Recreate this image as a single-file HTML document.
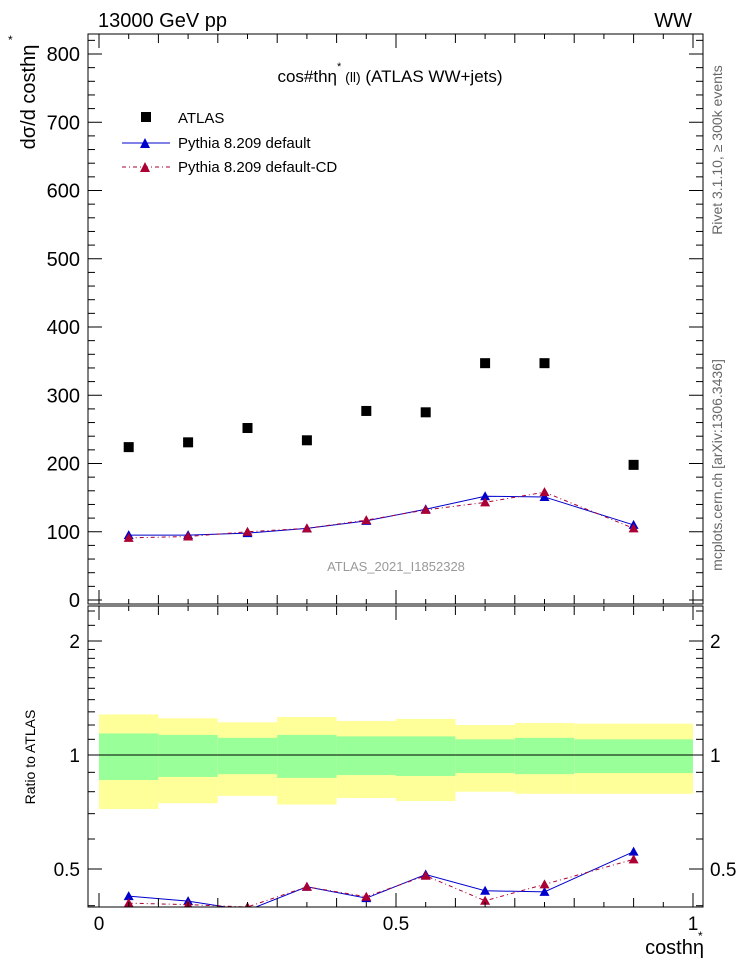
<!DOCTYPE html>
<html><head><meta charset="utf-8"><style>
body{margin:0;background:#fff}
svg{display:block;font-family:"Liberation Sans",sans-serif}
</style></head><body>
<svg id="c" width="746" height="972" viewBox="0 0 746 972">
<text x="98" y="27" font-size="20">13000 GeV pp</text>
<text x="692" y="27" font-size="20" text-anchor="end">WW</text>
<text x="390" y="82" font-size="17" text-anchor="middle">cos#thη<tspan dy="-12" font-size="11">*</tspan><tspan dy="12" font-size="14"> (ll)</tspan> (ATLAS WW+jets)</text>
<text x="396" y="571" font-size="13" fill="#999" text-anchor="middle">ATLAS_2021_I1852328</text>
<text transform="translate(722,150) rotate(-90)" font-size="14" fill="#666" text-anchor="middle">Rivet 3.1.10, ≥ 300k events</text>
<text transform="translate(722,465) rotate(-90)" font-size="14" fill="#666" text-anchor="middle">mcplots.cern.ch [arXiv:1306.3436]</text>
<text transform="translate(35,97) rotate(-90)" font-size="20" text-anchor="middle">dσ/d costhη</text>
<text x="8" y="44" font-size="12">*</text>
<text transform="translate(35,757) rotate(-90)" font-size="14" text-anchor="middle">Ratio to ATLAS</text>
<text x="704" y="954" font-size="20" text-anchor="end">costhη</text>
<text x="698" y="940" font-size="12">*</text>
<g id="legend">
<rect x="141" y="112" width="10" height="10" fill="#000"/>
<text x="178" y="123" font-size="15">ATLAS</text>
<line x1="122" y1="143" x2="170" y2="143" stroke="#00c"/>
<path d="M140,148 L150,148 L145,138 Z" fill="#00c"/>
<text x="178" y="148" font-size="15">Pythia 8.209 default</text>
<line x1="122" y1="167" x2="170" y2="167" stroke="#a03" stroke-dasharray="4,3,1,3"/>
<path d="M140,172 L150,172 L145,162 Z" fill="#a03"/>
<text x="178" y="172" font-size="15">Pythia 8.209 default-CD</text>
</g>
<defs><clipPath id="topclip"><rect x="88" y="34" width="615" height="570"/></clipPath>
<clipPath id="botclip"><rect x="88" y="606" width="615" height="301"/></clipPath></defs>
<g id="topPanel" clip-path="url(#topclip)"></g>
<g id="botPanel" clip-path="url(#botclip)"></g>
<g id="axes"></g>
</svg>
<script>
const binLo=[0,0.1,0.2,0.3,0.4,0.5,0.6,0.7,0.8];
const binHi=[0.1,0.2,0.3,0.4,0.5,0.6,0.7,0.8,1.0];
const binCenters=[0.05,0.15,0.25,0.35,0.45,0.55,0.65,0.75,0.9];
const atlas=[224,231,252,234,277,275,347,347,198];
const pyDefault=[95,95,98,105,116,133,152,151,110];
const pyCD=[91,93,100,105,117,132,143,158,105];
const bandYellowHi=[1.28,1.25,1.22,1.26,1.23,1.245,1.20,1.215,1.21];
const bandGreenHi=[1.14,1.13,1.11,1.13,1.12,1.12,1.10,1.11,1.10];
const bandGreenLo=[0.859,0.875,0.89,0.87,0.885,0.88,0.896,0.89,0.896];
const bandYellowLo=[0.72,0.746,0.78,0.74,0.77,0.756,0.80,0.79,0.79];
const yTicks=[0,100,200,300,400,500,600,700,800];
const rTicks=[0.5,1,2];
const xTicks=[0,0.5,1];

const NS="http://www.w3.org/2000/svg";
const X=v=>99+v*594;
const Y=v=>600-v*0.6825;
const R=v=>755-Math.log2(v)*114;
function mk(tag,attrs,parent){const e=document.createElementNS(NS,tag);for(const k in attrs)e.setAttribute(k,attrs[k]);parent.appendChild(e);return e;}
const topG=document.getElementById('topPanel'),botG=document.getElementById('botPanel'),ax=document.getElementById('axes');

for(let i=0;i<binLo.length;i++){
  let r=mk('rect',{x:X(binLo[i]),y:R(bandYellowHi[i]),width:X(binHi[i])-X(binLo[i]),height:R(bandYellowLo[i])-R(bandYellowHi[i]),fill:'#ffff99'},botG);
  
  
  let g=mk('rect',{x:X(binLo[i]),y:R(bandGreenHi[i]),width:X(binHi[i])-X(binLo[i]),height:R(bandGreenLo[i])-R(bandGreenHi[i]),fill:'#99ff99'},botG);
  
  
}
let one=mk('line',{x1:88,x2:703,y1:R(1),y2:R(1),stroke:'#000'},botG);



function series(vals,color,dash,parent,yf,name){
  const pts=vals.map((v,i)=>X(binCenters[i])+','+yf(v,i)).join(' ');
  const attrs={points:pts,fill:'none',stroke:color,'stroke-width':1};
  if(dash)attrs['stroke-dasharray']=dash;
  const pl=mk('polyline',attrs,parent);
  
  
  vals.forEach((v,i)=>{const x=X(binCenters[i]),y=yf(v,i);
    const m=mk('path',{d:`M${x-5},${y+4} L${x+5},${y+4} L${x},${y-5} Z`,fill:color},parent);
    
    });
}
atlas.forEach((v,i)=>{const m=mk('rect',{x:X(binCenters[i])-5,y:Y(v)-5,width:10,height:10,fill:'#000'},topG);
  
  });
series(pyDefault,'#00c','',topG,v=>Y(v),'default');
series(pyCD,'#a03','4,3,1,3',topG,v=>Y(v),'cd');
series(pyDefault,'#00c','',botG,(v,i)=>R(v/atlas[i]),'default-ratio');
series(pyCD,'#a03','4,3,1,3',botG,(v,i)=>R(v/atlas[i]),'cd-ratio');

[[34,604],[606,907]].forEach(([a,b])=>{const f=mk('rect',{x:88,y:a,width:615,height:b-a,fill:'none',stroke:'#000'},ax);
  
  });
for(let k=0;k<=20;k++){const v=k*0.05;const big=k%10===0,mid=k%2===0;const L=big?14:(mid?9:5);
  [[34,1],[604,-1],[606,1],[907,-1]].forEach(([y0,d])=>mk('line',{x1:X(v),x2:X(v),y1:y0,y2:y0+d*L,stroke:'#000'},ax));}
xTicks.forEach(v=>{const t=mk('text',{x:X(v),y:930,'font-size':19,'text-anchor':'middle'},ax);t.textContent=String(v);
  
  });
for(let v=0;v<=820;v+=20){const L=v%100===0?14:7;const y=Y(v);if(y<34)continue;
  mk('line',{x1:88,x2:88+L,y1:y,y2:y,stroke:'#000'},ax);mk('line',{x1:703,x2:703-L,y1:y,y2:y,stroke:'#000'},ax);}
yTicks.forEach(v=>{const t=mk('text',{x:80,y:Y(v)+7,'font-size':20,'text-anchor':'end'},ax);t.textContent=String(v);
  
  });
[0.4,0.5,0.6,0.7,0.8,0.9,1,1.1,1.2,1.3,1.4,1.5,1.6,1.7,1.8,1.9,2,2.2,2.4].forEach(v=>{const L=(v===0.5||v===1||v===2)?14:7;const y=R(v);if(y>907||y<606)return;
  mk('line',{x1:88,x2:88+L,y1:y,y2:y,stroke:'#000'},ax);mk('line',{x1:703,x2:703-L,y1:y,y2:y,stroke:'#000'},ax);});
rTicks.forEach(v=>{[[80,'end'],[710,'start']].forEach(([x,a])=>{const t=mk('text',{x:x,y:R(v)+7,'font-size':19,'text-anchor':a},ax);t.textContent=String(v);
  
  });});
</script>
</body></html>
